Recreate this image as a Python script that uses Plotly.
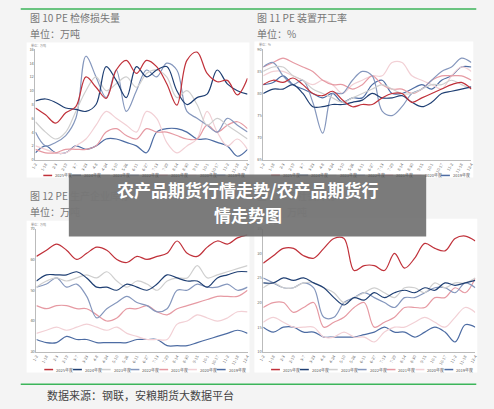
import plotly.graph_objects as go

dates = ["1-2","1-18","2-3","2-19","3-7","3-23","4-8","4-24","5-10","5-26","6-11","6-27","7-13","7-29","8-14","8-30","9-15","10-1","10-17","11-2","11-18","12-4"]
years = ["2025年度","2024年度","2023年度","2022年度","2021年度","2020年度","2019年度"]
colors = ["#c0313a","#1f3f73","#cfcfcf","#8597bd","#e69aa3","#f2d0d5","#4d6ca3"]

c1_2025 = [7.5,6.5,5.3,6.8,7.7,12,10.5,8.9,13,14.4,12.5,14.4,13.5,11,7.9,14.4,15.6,12.5,11.3,11.5,9.4,11.8]
c1_2024 = [8.5,8.8,8.3,7.5,7.3,7,8,13.5,11.5,9,13.5,12,13,13.5,10,8,9,9.5,13,11,10,9.5]
c1_2023 = [5.5,4,3,4,7,10,12,10,11,12,10.5,12.5,13,12,9,10,8,5,6,5,4,3]
c1_2022 = [4,2,2.5,3.5,6,15,12,9,13,7,10,13,12,14,13,7,6,5,4,6,5,4]
c1_2021 = [1.5,1,1,1.5,1.5,1.5,2,4,4.5,3.5,3,4.5,4,4,3.5,3,3,5,4,5,5.5,4.5]
c1_2020 = [2,1.5,1,1,2,3,5,7,6,5,4,7,6,2.5,1,2,3,7,4,2,3,1.5]
c1_2019 = [1,2,1,1,2,1.5,2,3,3,2.5,2,1,4,4.5,4.5,4,3,3,2.5,2,0.5,1.5]

c2_2025 = [82,83,82.5,83.5,82,80,79.5,80.5,78.5,77,77.5,77.5,79,80,80,78,79,80,81,82,82.5,81]
c2_2024 = [80,81,81,82,80,77,77,77.5,77.5,78,78.5,80,79,79,79.5,78,77,78,80,80.5,81,81.5]
c2_2023 = [85,86,86,84,83,81,80,79,78,79,80,81,82,81,80,80,81,82,82,83,82,81]
c2_2022 = [86,87,84,82,83,78,71,80,80,83,85,84,76,75,77,80,81,83,85,86,88,87]
c2_2021 = [86,87,88,87,86,85,83,82,82,81,82,84,82,81,81,80,81,83,84,84,84,83]
c2_2020 = [84,85,85,84,83,82,83,82,80,82,83,84,84,87,87,84,83,82,81,84,86,85]
c2_2019 = [82,82.5,84,82,81,80,79,80,78,79,79,82,83,80,80,81,82,81,83,84,86,86]

c3_2025 = [61,63,65,63,60,62,64,63,60,59,61,60,61,62,66,62,61,64,66,65,67,68]
c3_2024 = [53,55,55,55,56,54,51,51,50,52,51,50,52,55,54,53,53,51,54,55,56,56]
c3_2023 = [51,53,54,53,54,55,54,56,53,51,53,52,50,53,54,54,58,54,55,56,57,58]
c3_2022 = [51,52,54,51,52,48,41,44,46,48,46,45,43,44,50,50,52,51,51,52,50,51]
c3_2021 = [45,44,45,45,44,44,42,40,41,44,44,45,43,42,44,45,46,47,48,48,48,50]
c3_2020 = [36,37,38,37,38,39,38,37,38,36,35,34,34,34,39,40,42,41,40,41,43,43]
c3_2019 = [34,33,33,35,34,34,33,33,33,33,34,34,34,32,32,32,33,34,35,36,37,36]

c4_2025 = [28,29.5,31,31,29.5,29,31,33,33,26.5,27.5,27.5,26.5,30,27,29,32,31,30.5,33,33.5,32.5]
c4_2024 = [24,24,25,24.5,25,24,23,21,19.5,21,20.5,22,21,22,22.5,22,23,22.5,24,23.5,24,24.5]
c4_2023 = [23,24,23,23,24,24,23,22,20,21,22,23,22,21,23,23,22,24,23,24,24,25]
c4_2022 = [25,24,23,23,24,23,17,17,20,21,22,21,20,19,21,21,22,23,23,22,24,23]
c4_2021 = [19,20,20,18,19,20,15,16,17,19,20,15,16,17,19,19,19,21,21,23,22,25]
c4_2020 = [16,17,16,15,15,15,13,13,14,13,13,12,14,15,15,16,17,16,15,17,19,18]
c4_2019 = [15,14,15,15,14,14,13,13,13,13,13.5,14,15,14,14,13,14,15,14,12,15.5,15]

panels = [
    [c1_2025,c1_2024,c1_2023,c1_2022,c1_2021,c1_2020,c1_2019],
    [c2_2025,c2_2024,c2_2023,c2_2022,c2_2021,c2_2020,c2_2019],
    [c3_2025,c3_2024,c3_2023,c3_2022,c3_2021,c3_2020,c3_2019],
    [c4_2025,c4_2024,c4_2023,c4_2022,c4_2021,c4_2020,c4_2019],
]
yranges = [[0,16],[65,90],[30,70],[10,35]]
ydticks = [2,5,10,5]

W, H = 494, 409
def px(x): return x / W
def py(y): return 1 - y / H

boxes = [
    ((21,39,248,176),(30,46,246,158),174),
    ((253,38,476,176),(262,46,474,158),174),
    ((21,220,248,374),(31,228,246,353),371),
    ((253,218,480,374),(262,228,478,353),371),
]

tf = "Noto Sans CJK SC"
def t(x, y, s, size=10, color="#777", anchor="left", bold=False):
    return dict(xref="paper", yref="paper", x=px(x), y=py(y), text=("<b>%s</b>" % s) if bold else s, showarrow=False,
                xanchor=anchor, yanchor="middle", font=dict(family=tf, size=size, color=color))

fig = go.Figure()
shapes = []
annotations = []
layout = {}
for i,(series, yr, dt, (wb, ab, ly)) in enumerate(zip(panels, yranges, ydticks, boxes)):
    sfx = "" if i == 0 else str(i+1)
    for name, col, vals in reversed(list(zip(years, colors, series))):
        fig.add_trace(go.Scatter(x=dates, y=vals, name=name, mode="lines", line=dict(color=col, width=1.2, shape="spline"),
                                 xaxis="x"+sfx, yaxis="y"+sfx, showlegend=False))
    shapes.append(dict(type="rect", xref="paper", yref="paper", x0=px(wb[0]), x1=px(wb[2]), y0=py(wb[3]), y1=py(wb[1]),
                       fillcolor="white", line=dict(width=0), layer="below"))
    layout["xaxis"+sfx] = dict(domain=[px(ab[0]), px(ab[2])], anchor="y"+sfx, type="category", tickangle=-60,
                               tickfont=dict(size=4, color="#666"), showgrid=False, showline=True, linecolor="#bbb",
                               linewidth=0.6, ticks="")
    layout["yaxis"+sfx] = dict(domain=[py(ab[3]), py(ab[1])], anchor="x"+sfx, range=yr, dtick=dt, tickfont=dict(size=4, color="#666"),
                               showgrid=False, showline=True, linecolor="#bbb", linewidth=0.6, zeroline=False)
    step = (ab[2] - ab[0] - 10) / 7
    for k, (name, col) in enumerate(zip(years, colors)):
        x0 = ab[0] + 8 + k * step
        shapes.append(dict(type="line", xref="paper", yref="paper", x0=px(x0), x1=px(x0+9), y0=py(ly), y1=py(ly),
                           line=dict(color=col, width=1.5)))
        annotations.append(t(x0+10, ly, name, size=4, color="#555"))

green = "#3cb55a"
shapes += [
    dict(type="line", xref="paper", yref="paper", x0=px(15), x1=px(479), y0=py(5), y1=py(5), line=dict(color=green, width=1.5)),
    dict(type="line", xref="paper", yref="paper", x0=px(15), x1=px(479), y0=py(386), y1=py(386), line=dict(color=green, width=1.5)),
    dict(type="rect", xref="paper", yref="paper", x0=px(64), x1=px(428), y0=py(236), y1=py(173),
         fillcolor="rgba(110,110,110,0.9)", line=dict(width=0), layer="above"),
]

annotations += [
    t(22,14,"图 10 PE 检修损失量"), t(22,30,"单位：万吨"),
    t(254,14,"图 11 PE 装置开工率"), t(254,30,"单位：%"),
    t(22,194,"图 12 PE 生产企业库存"), t(22,211,"单位：万吨"),
    t(254,194,"图 13 PE 社会库存"), t(284,211,"万吨"),
    t(40,397,"数据来源：钢联，安粮期货大数据平台", size=11, color="#444"),
    t(23,42,"单位：万吨", size=3, color="#888"), t(256,41,"单位：%", size=3, color="#888"),
    t(23,224,"单位：万吨", size=3, color="#888"), t(256,223,"单位：万吨", size=3, color="#888"),
    t(246,188,"农产品期货行情走势/农产品期货行", size=17, color="white", anchor="center", bold=True),
    t(246,214,"情走势图", size=17, color="white", anchor="center", bold=True),
]

fig.update_layout(width=W, height=H, margin=dict(l=0, r=0, t=0, b=0), paper_bgcolor="#f4f4f4", plot_bgcolor="white",
                  shapes=shapes, annotations=annotations, font=dict(family=tf), **layout)
fig.write_html("out.html", config={"displayModeBar": False},
               post_script="document.body.style.margin='0';document.body.style.overflow='hidden';")
